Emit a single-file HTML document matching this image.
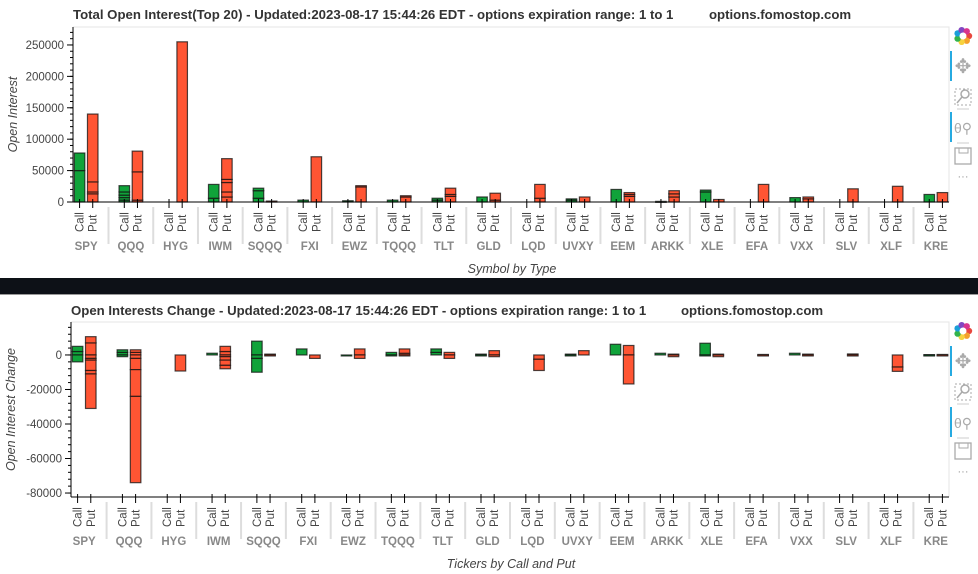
<!DOCTYPE html>
<html><head><meta charset="utf-8">
<style>
html,body{margin:0;padding:0;background:#fff;}
svg{display:block;font-family:"Liberation Sans",sans-serif;}
</style></head>
<body>
<svg id="root" width="978" height="574" viewBox="0 0 978 574" xmlns="http://www.w3.org/2000/svg">
<rect x="0" y="278" width="978" height="16" fill="#0d1117"/>
<line x1="0" y1="294.5" x2="978" y2="294.5" stroke="#999"/>
</svg>
<script>
const symbols = ["SPY","QQQ","HYG","IWM","SQQQ","FXI","EWZ","TQQQ","TLT","GLD","LQD","UVXY","EEM","ARKK","XLE","EFA","VXX","SLV","XLF","KRE"];
const types = ["Call","Put"];
// top chart: stacked strike segments (open interest)
const oiCall = [[50000,28000],[3000,4000,4000,5000,10000],[],[6000,22000],[6000,12000,4000],[3000],[2000],[3000],[3000,3000],[8000],[],[3000,2000],[20000],[1000],[16000,3000],[],[7000],[],[],[12000]];
const oiPut = [[13000,3000,16000,108000],[3000,45000,33000],[255000],[8000,8000,15000,5000,33000],[1500],[72000],[24000,2000],[8000,2000],[9000,3000,10000],[3000,11000],[6000,22000],[8000],[9000,3000,3000],[8000,5000,5000],[4000],[28000],[5000,3000],[21000],[25000],[15000]];
const oiTicks = [0,50000,100000,150000,200000,250000];
// bottom chart: signed change segments
const chgCall = [[2000,3000,-4000],[1500,1500,-1000],[],[1000],[8000,-2000,-8000],[3500],[-500],[1500,-500],[1500,2000],[500,-500],[],[500,-500],[6200],[1000],[6800,-500],[],[1000],[],[],[200,-200]];
const chgPut = [[7000,3600,-2000,-1000,-6000,-2000,-20000],[1500,1500,-2000,-6500,-15500,-50000],[-9300],[2000,3000,-1000,-2000,-3000,-2000],[500,-500],[-2000],[3500,-2000],[1000,2500,-500],[1500,-2000],[2500,-1000],[-2500,-6500],[2500],[5500,-16800],[500,-1000],[500,-1000],[300,-300],[500,-500],[600,-600],[-7000,-2500],[300,-300]];
const chgTicks = [0,-20000,-40000,-60000,-80000];

const NS="http://www.w3.org/2000/svg";
const root=document.getElementById('root');
function mk(tag,attrs,parent){const e=document.createElementNS(NS,tag);for(const k in attrs)e.setAttribute(k,attrs[k]);(parent||root).appendChild(e);return e;}
const GREEN="#10a33a", RED="#ff5533";

function drawChart(cfg){
  const g=mk('g',{});
  
  
  const {x0,x1,top,bottom,ymin,ymax}=cfg;
  const units=symbols.length*2+(symbols.length-1)*1.4;
  const upx=(x1-x0)/units;
  const xc=(gi,ti)=>x0+(gi*3.4+ti+0.5)*upx;
  const y=v=>bottom-(v-ymin)/(ymax-ymin)*(bottom-top);
  // title
  const t=mk('text',{x:cfg.titleX,y:cfg.titleY,'font-size':13.2,'font-weight':'bold',fill:'#333'},g);
  t.textContent=cfg.title;
  
  
  const t2=mk('text',{x:cfg.siteX,y:cfg.titleY,'font-size':13.2,'font-weight':'bold',fill:'#333'},g);
  t2.textContent='options.fomostop.com';
  
  
  // frame
  const fr=mk('path',{d:`M${x0} ${top}H${x1}V${y(cfg.axisAt)}`,fill:'none',stroke:'#e5e5e5'},g);
  
  
  // bars
  const drawBar=(segs,gi,ti,color,sym)=>{
    let pos=0,neg=0;
    const bw=0.8*upx,cx=xc(gi,ti);
    segs.forEach(s=>{
      let a,b;
      if(s>=0){a=pos;b=pos+s;pos=b;}else{a=neg;b=neg+s;neg=b;}
      const r=mk('rect',{x:cx-bw/2,y:Math.min(y(a),y(b)),width:bw,height:Math.max(Math.abs(y(a)-y(b)),1),fill:color,stroke:'#111','stroke-opacity':0.75,'stroke-width':1.2},g);
      
      
    });
  };
  symbols.forEach((s,gi)=>{drawBar(cfg.calls[gi],gi,0,GREEN,s);drawBar(cfg.puts[gi],gi,1,RED,s);});
  // y axis
  const ay=mk('line',{x1:x0,y1:top,x2:x0,y2:y(cfg.axisAt),stroke:'#000'},g);
  
  
  const step=cfg.ticks[1]-cfg.ticks[0];
  const minor=Math.abs(step/5);
  for(let v=Math.ceil(ymin/minor)*minor;v<=ymax;v+=minor){
    mk('line',{x1:x0-3,y1:y(v),x2:x0,y2:y(v),stroke:'#000'},g);
  }
  cfg.ticks.forEach(v=>{
    mk('line',{x1:x0-6,y1:y(v),x2:x0,y2:y(v),stroke:'#000'},g);
    const tl=mk('text',{x:x0-9,y:y(v)+4,'font-size':11.5,'text-anchor':'end',fill:'#444'},g);
    tl.textContent=String(v);
    
    
  });
  const yt=mk('text',{transform:`translate(${cfg.yTitleX},${(top+y(cfg.axisAt))/2}) rotate(-90)`,'font-size':12.5,'font-style':'italic','text-anchor':'middle',fill:'#444'},g);
  yt.textContent=cfg.yTitle;
  
  
  // x axis
  const axY=y(cfg.axisAt);
  const ax=mk('line',{x1:x0,y1:axY,x2:x1,y2:axY,stroke:'#000'},g);
  
  
  symbols.forEach((s,gi)=>{
    types.forEach((tp,ti)=>{
      const cx=xc(gi,ti);
      mk('line',{x1:cx,y1:axY-3,x2:cx,y2:axY+6,stroke:'#000'},g);
      const tl=mk('text',{transform:`translate(${cx+4},${axY+30}) rotate(-90)`,'font-size':11.5,fill:'#444'},g);
      tl.textContent=tp;
      
      
    });
    const gc=(xc(gi,0)+xc(gi,1))/2;
    const gl=mk('text',{x:gc,y:axY+48,'font-size':11.5,'font-weight':'bold','text-anchor':'middle',fill:'#888'},g);
    gl.textContent=s;
    
    
    if(gi>0){
      const sx=x0+(gi*3.4-0.7)*upx;
      mk('line',{x1:sx,y1:axY+5,x2:sx,y2:axY+42,stroke:'#ddd','stroke-width':2},g);
    }
  });
  const xt=mk('text',{x:cfg.xTitleX,y:cfg.xTitleY,'font-size':12.5,'font-style':'italic','text-anchor':'middle',fill:'#444'},g);
  xt.textContent=cfg.xTitle;
  
  
  // toolbar
  const tb=mk('g',{transform:`translate(952,${top})`},g);
  
  
  const cols=['#e8473e','#f4a12c','#f7d23e','#33b34a','#1a9fd9','#8247c2','#d9358e'];
  cols.forEach((c,i)=>{const a=i/7*Math.PI*2;mk('circle',{cx:11+6*Math.cos(a),cy:9+6*Math.sin(a),r:3.2,fill:c},tb);});
  mk('circle',{cx:11,cy:9,r:3.5,fill:'#fff'},tb);
  mk('rect',{x:-2,y:24,width:2,height:30,fill:'#26aae1'},tb);
  mk('rect',{x:-2,y:85,width:2,height:30,fill:'#26aae1'},tb);
  const pan=mk('text',{x:11,y:46,'font-size':20,'text-anchor':'middle',fill:'#aaa'},tb);pan.textContent='✥';
  
  
  const bz=mk('g',{},tb);
  
  
  mk('rect',{x:3,y:62,width:16,height:16,fill:'none',stroke:'#aaa','stroke-dasharray':'2,2'},bz);
  mk('circle',{cx:13,cy:67,r:4,fill:'none',stroke:'#aaa','stroke-width':1.5},bz);
  mk('line',{x1:10,y1:70,x2:5,y2:76,stroke:'#aaa','stroke-width':1.5},bz);
  mk('line',{x1:5,y1:82,x2:17,y2:82,stroke:'#ccc'},tb);
  const wz=mk('text',{x:11,y:106,'font-size':14,'text-anchor':'middle',fill:'#aaa'},tb);wz.textContent='θ⚲';
  
  
  mk('line',{x1:5,y1:116,x2:17,y2:116,stroke:'#ccc'},tb);
  const sv=mk('g',{},tb);
  
  
  mk('rect',{x:3,y:121,width:16,height:16,fill:'none',stroke:'#aaa','stroke-width':1.3},sv);
  mk('rect',{x:7,y:121,width:9,height:5,fill:'none',stroke:'#aaa'},sv);
  const mo=mk('text',{x:11,y:153,'font-size':11,'text-anchor':'middle',fill:'#999'},tb);mo.textContent='···';
  
  
}

drawChart({name:'total-open-interest-chart',x0:73,x1:949,top:27,bottom:202,ymin:0,ymax:278600,axisAt:0,
  calls:oiCall,puts:oiPut,ticks:oiTicks,
  title:'Total Open Interest(Top 20) - Updated:2023-08-17 15:44:26 EDT - options expiration range: 1 to 1',
  siteX:709,titleX:73,titleY:19,yTitle:'Open Interest',yTitleX:17,xTitle:'Symbol by Type',xTitleX:512,xTitleY:273});
drawChart({name:'open-interest-change-chart',x0:71,x1:949,top:322,bottom:497,ymin:-82300,ymax:19100,axisAt:-82300,
  calls:chgCall,puts:chgPut,ticks:chgTicks,
  title:'Open Interests Change - Updated:2023-08-17 15:44:26 EDT - options expiration range: 1 to 1',
  siteX:681,titleX:71,titleY:315,yTitle:'Open Interest Change',yTitleX:15,xTitle:'Tickers by Call and Put',xTitleX:511,xTitleY:568});
</script>
</body></html>
